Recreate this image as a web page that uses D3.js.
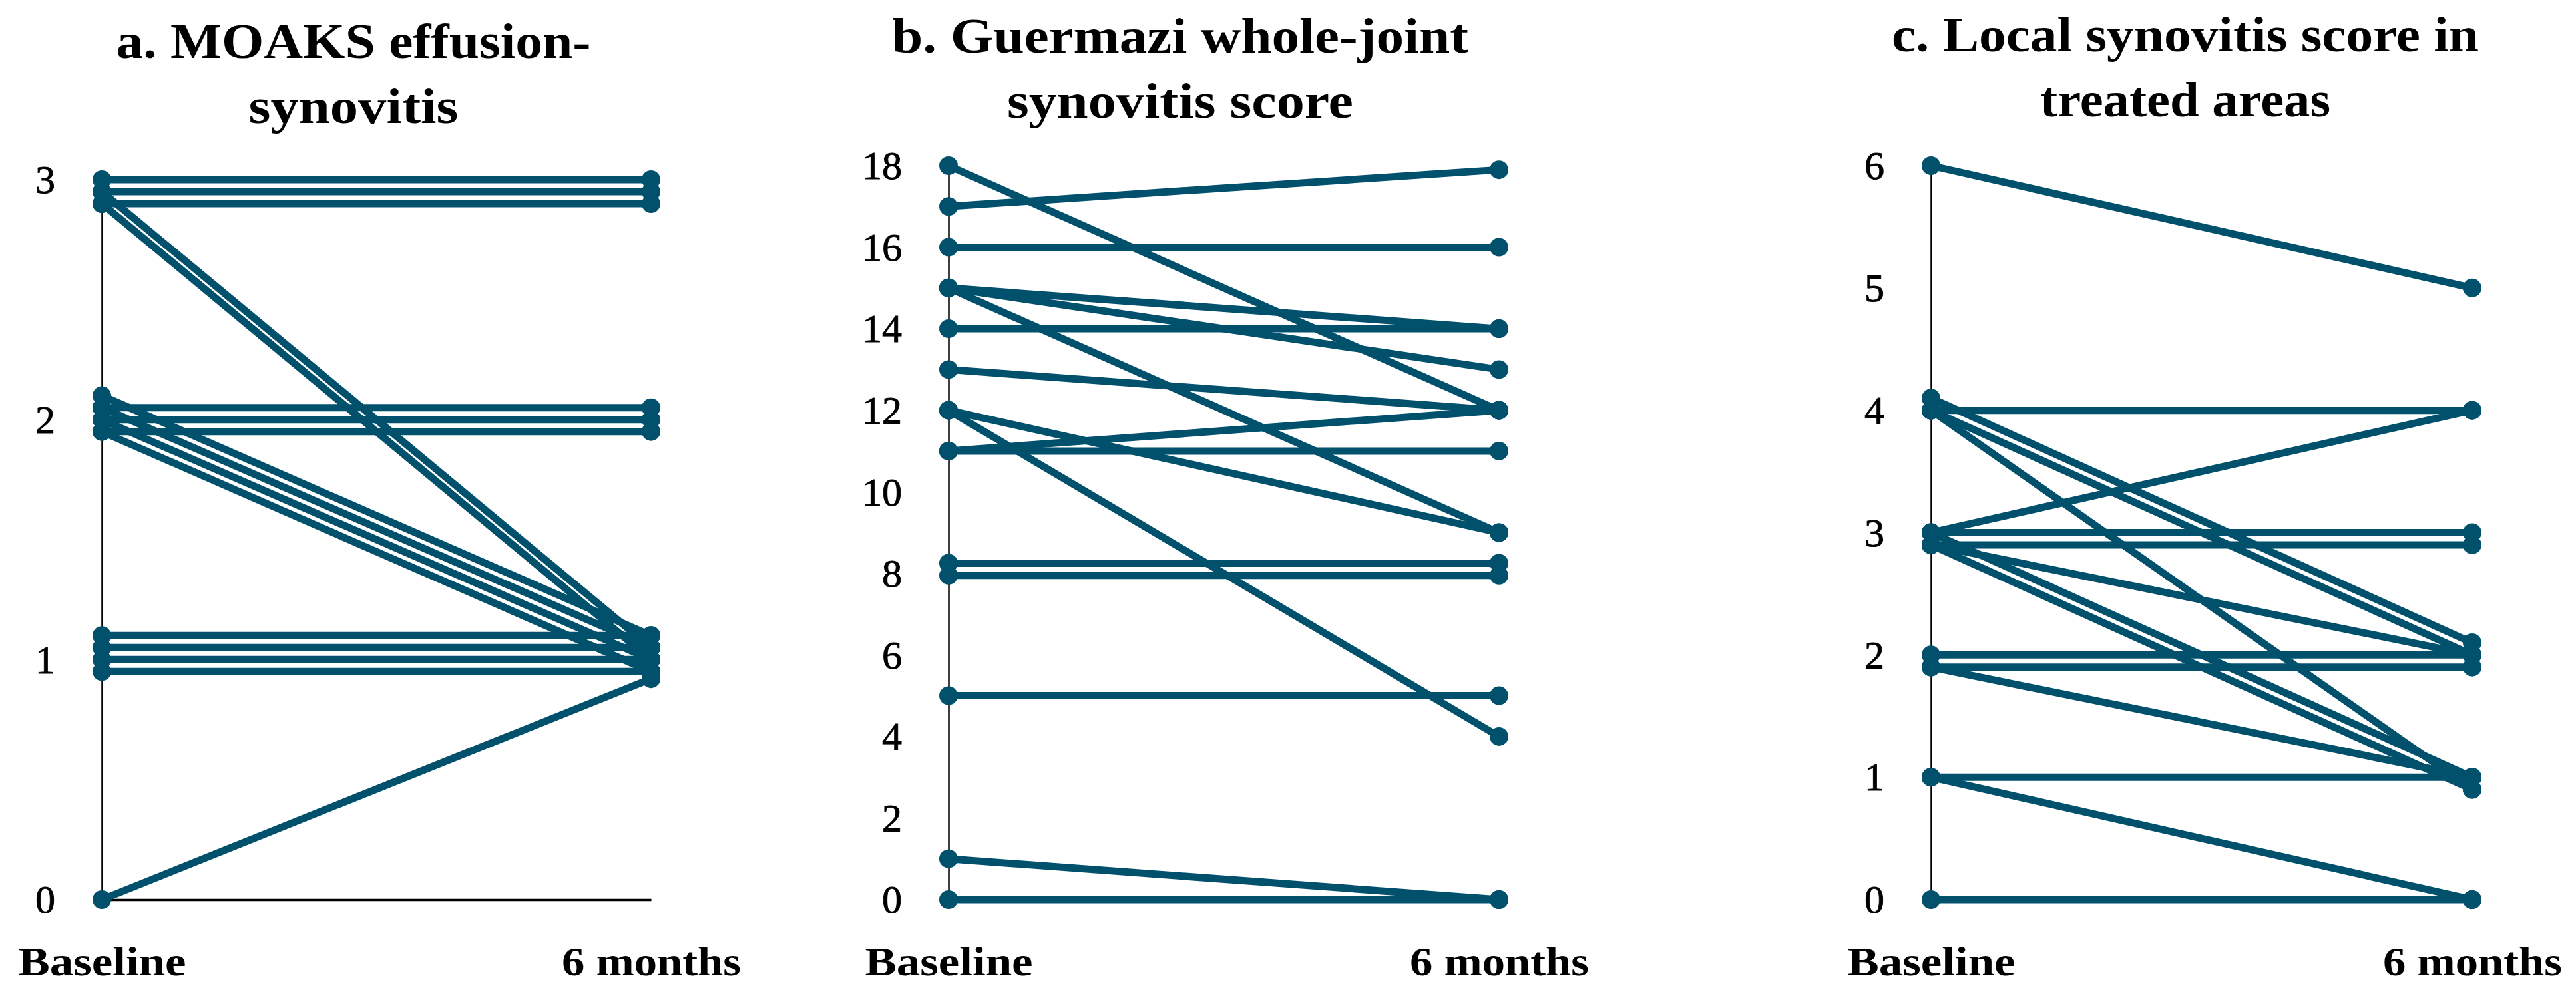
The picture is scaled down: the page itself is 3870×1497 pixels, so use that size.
<!DOCTYPE html>
<html><head><meta charset="utf-8">
<script src="https://cdn.jsdelivr.net/npm/d3@7"></script>
<style>
html,body{margin:0;padding:0;background:#fff;}
svg{display:block;}
</style></head><body>
<svg id="chart" width="3870" height="1497"></svg>
<script>
// ---------------- data ----------------
const timepoints = ["Baseline", "6 months"];

const moaksTitle = ["a. MOAKS effusion-", "synovitis"];
const moaksTicks = [0, 1, 2, 3];
const moaksBaseline = [3.0, 2.95, 2.9, 2.95, 2.9, 2.05, 2.0, 1.95, 2.1, 2.05, 2.0, 1.95, 1.1, 1.05, 1.0, 0.95, 0];
const moaks6Months  = [3.0, 2.95, 2.9, 1.05, 1.0, 2.05, 2.0, 1.95, 1.1, 1.05, 1.0, 0.95, 1.1, 1.05, 1.0, 0.95, 0.92];

const guermaziTitle = ["b. Guermazi whole-joint", "synovitis score"];
const guermaziTicks = [0, 2, 4, 6, 8, 10, 12, 14, 16, 18];
const guermaziBaseline = [18, 17, 16, 15, 15, 15, 14, 13, 12, 12, 11, 11, 8.25, 7.95, 5, 1, 0];
const guermazi6Months  = [12, 17.9, 16, 14, 13, 9, 14, 12, 9, 4, 12, 11, 8.25, 7.95, 5, 0, 0];

const localTitle = ["c. Local synovitis score in", "treated areas"];
const localTicks = [0, 1, 2, 3, 4, 5, 6];
const localBaseline = [6, 4.1, 4.0, 4.0, 4.0, 3.0, 3.0, 2.9, 2.9, 3.0, 2.9, 2.0, 1.9, 1.9, 1.0, 1.0, 0];
const local6Months  = [5, 2.1, 2.0, 0.9, 4.0, 4.0, 3.0, 2.9, 2.0, 1.0, 0.9, 2.0, 1.9, 1.0, 1.0, 0, 0];

// ---------------- layout / style ----------------
const COLOR = "#01506c";
const FONT = "'Palatino Linotype','Book Antiqua',Palatino,'Liberation Serif','Times New Roman',serif";
const Y0 = 1352;           // pixel row of value 0
const LABEL_BASE = 1466;   // baseline of the time-point labels
const LINE_W = 11, DOT_R = 14;

const panels = [
  { title: moaksTitle, ticks: moaksTicks, base: moaksBaseline, post: moaks6Months,
    x0: 153, x1: 978, yTop: 270, titleX: 531, titleY: 87, titleW: [713, 315] },
  { title: guermaziTitle, ticks: guermaziTicks, base: guermaziBaseline, post: guermazi6Months,
    x0: 1425, x1: 2252, yTop: 249, titleX: 1773, titleY: 79, titleW: [866, 520] },
  { title: localTitle, ticks: localTicks, base: localBaseline, post: local6Months,
    x0: 2901, x1: 3714, yTop: 249, titleX: 3283, titleY: 77, titleW: [882, 436] }
];

const svg = d3.select("#chart");
svg.append("rect").attr("width", 3870).attr("height", 1497).attr("fill", "#fff");

panels.forEach(p => {
  const g = svg.append("g");
  const x = d3.scalePoint().domain(timepoints).range([p.x0, p.x1]).padding(0);
  const y = d3.scaleLinear().domain([0, d3.max(p.ticks)]).range([Y0, p.yTop]);

  // title
  p.title.forEach((t, i) => {
    g.append("text")
      .attr("x", p.titleX).attr("y", p.titleY + i * 98)
      .attr("text-anchor", "middle")
      .attr("font-family", FONT).attr("font-weight", "bold").attr("font-size", 74)
      .attr("textLength", p.titleW[i]).attr("lengthAdjust", "spacingAndGlyphs")
      .attr("fill", "#000")
      .text(t);
  });

  // y axis
  const yAxis = g.append("g").attr("transform", `translate(${p.x0},0)`)
    .call(d3.axisLeft(y).tickValues(p.ticks).tickSize(0).tickPadding(70).tickFormat(d3.format("d")));
  yAxis.select(".domain").attr("stroke", "#000").attr("stroke-width", 2.5);
  yAxis.selectAll("text")
    .attr("font-family", FONT).attr("font-size", 60).attr("fill", "#000")
    .attr("stroke", "#000").attr("stroke-width", 0.9)
    .attr("dy", "0.33em");

  // x axis
  const xAxis = g.append("g").attr("transform", `translate(0,${Y0})`)
    .call(d3.axisBottom(x).tickSize(0));
  xAxis.select(".domain").attr("stroke", "#000").attr("stroke-width", 3.5);
  xAxis.selectAll("text")
    .attr("y", LABEL_BASE - Y0).attr("dy", null)
    .attr("font-family", FONT).attr("font-weight", "bold").attr("font-size", 62).attr("fill", "#000")
    .attr("textLength", d => d === "Baseline" ? 252 : 269).attr("lengthAdjust", "spacingAndGlyphs");

  // patient lines
  const pairs = p.base.map((b, i) => [[timepoints[0], b], [timepoints[1], p.post[i]]]);
  const line = d3.line().x(d => x(d[0])).y(d => y(d[1]));
  g.append("g").selectAll("path").data(pairs).join("path")
    .attr("d", line)
    .attr("fill", "none").attr("stroke", COLOR).attr("stroke-width", LINE_W);

  // dots
  g.append("g").selectAll("circle").data(pairs.flat()).join("circle")
    .attr("cx", d => x(d[0])).attr("cy", d => y(d[1])).attr("r", DOT_R)
    .attr("fill", COLOR);
});
</script>
</body></html>
